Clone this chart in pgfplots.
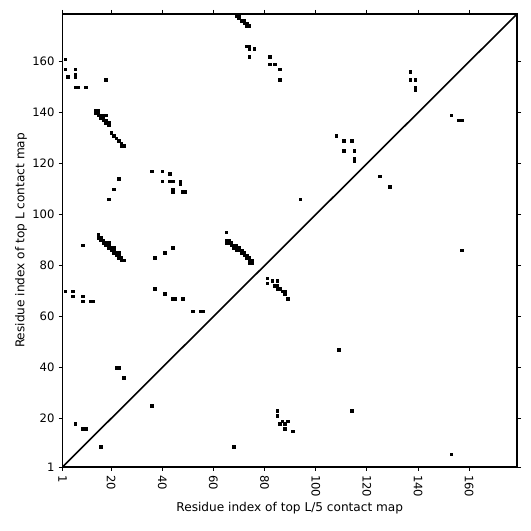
\documentclass[border=0pt]{standalone}
\usepackage{fontspec}
\setmainfont{DejaVu Sans}
\usepackage{pgfplots}
\pgfplotsset{compat=1.18}
\begin{document}
\fontsize{8.7}{10}\selectfont
\begin{tikzpicture}
\begin{axis}[
  name=ax,
  scale only axis,
  width=340.9pt, height=339.75pt,
  xmin=1, xmax=178.7, ymin=1, ymax=178.7,
  xtick={1,20,40,60,80,100,120,140,160},
  ytick={1,20,40,60,80,100,120,140,160},
  tick pos=both,
  ticklabel pos=left,
  tick align=outside,
  major tick length=3pt,
  tick style={black, line width=0.6pt},
  axis line style={line width=1.4pt},
  x tick label style={rotate=-90, anchor=west},
  /pgf/number format/assume math mode=true,
  ticklabel style={font=\fontsize{8.7}{10}\selectfont},
  label style={font=\fontsize{9.1}{10.5}\selectfont},
  xlabel={Residue index of top L/5 contact map},
  ylabel={Residue index of top L contact map},
  xlabel style={yshift=2pt},
  ylabel style={yshift=-2pt},
  clip=true,
]
\addplot[only marks, mark=square*, mark size=0.96pt, mark options={draw=none, fill=black}] coordinates {
(2,161)(2,157)(3,154)(6,157)(6,154)(6,155)(6,150)(7,150)(10,150)(18,153)
(14,140)(15,140)(14,141)(15,141)(15,139)(16,139)(17,139)(18,139)(16,138)(17,138)
(17,137)(18,137)(18,136)(19,136)(19,135)(20,132)(21,131)(22,130)(23,129)(24,128)(24,127)(25,127)
(69,178)(70,177)(70,178)(71,176)(72,176)(72,175)(73,175)(73,174)(74,174)
(73,166)(74,166)(74,165)(74,162)(76,165)(82,162)(82,159)(84,159)(86,157)(86,153)
(108,131)(111,129)(114,129)(111,125)(115,125)(115,122)(115,121)
(137,156)(137,153)(139,153)(139,150)(139,149)(153,139)(156,137)(157,137)(157,86)
(36,117)(40,117)(43,116)(40,113)(43,113)(44,113)(47,113)(47,112)(44,110)(44,109)(48,109)(49,109)
(23,114)(21,110)(19,106)(9,88)
(15,92)(15,91)(16,91)(16,90)(17,90)(17,89)(18,89)(18,88)(19,88)(19,87)(20,87)(20,86)
(21,86)(21,85)(22,85)(22,84)(23,84)(23,83)(24,83)(24,82)(25,82)(19,89)(21,87)(23,85)
(37,83)(41,85)(44,87)
(2,70)(5,70)(5,68)(9,68)(9,66)(12,66)(13,66)(37,71)(41,69)(44,67)(45,67)(48,67)(52,62)(55,62)(56,62)
(94,106)(65,93)
(65,89)(65,90)(66,89)(66,90)(67,88)(67,89)(68,88)(68,87)(69,87)(69,88)(69,86)(70,86)(70,87)
(71,85)(71,86)(72,84)(72,85)(73,83)(73,84)(74,82)(74,83)(75,82)(75,81)(74,81)
(81,75)(83,74)(85,74)(81,73)(84,72)(85,72)(85,71)(86,71)(87,70)(88,70)(88,69)(89,67)
(22,40)(23,40)(25,36)(6,18)(9,16)(10,16)(16,9)(36,25)
(109,47)(85,23)(85,21)(87,19)(89,19)(86,18)(88,18)(88,16)(91,15)(114,23)(68,9)(153,6)
(125,115)(129,111)
};
\addplot[black, line width=1.2pt] coordinates {(1,1) (178.7,178.7)};
\end{axis}
\path ([xshift=-46.9pt, yshift=-48pt]ax.south west) rectangle ([xshift=10.5pt, yshift=10.5pt]ax.north east);
\end{tikzpicture}
\end{document}
